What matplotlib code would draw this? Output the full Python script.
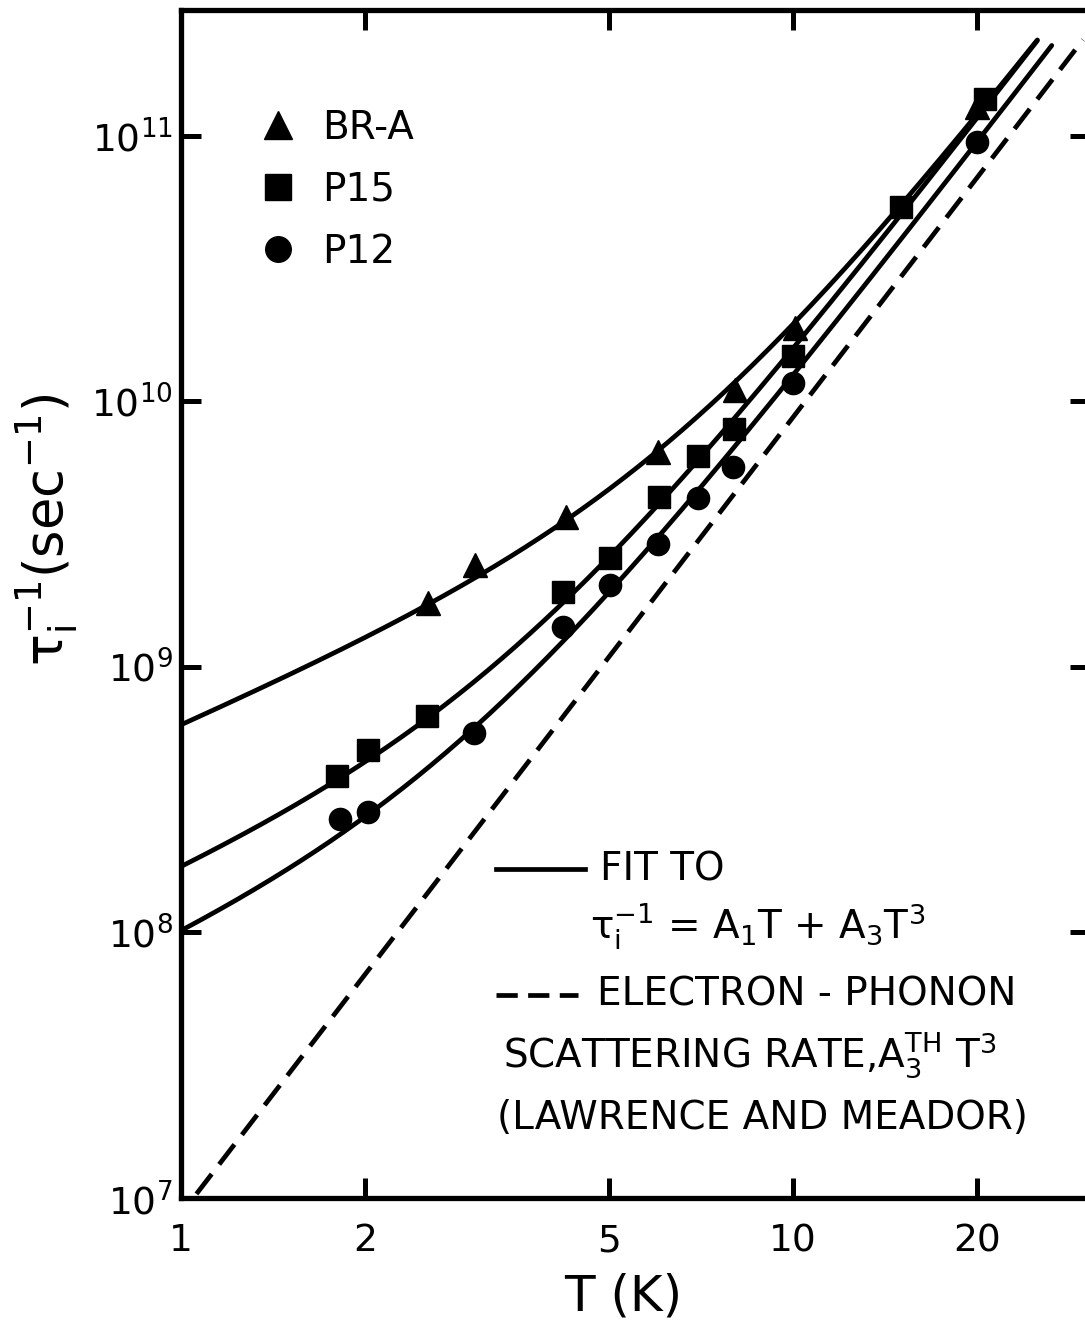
import numpy as np
import matplotlib.pyplot as plt
from matplotlib.lines import Line2D
from matplotlib.ticker import NullLocator

plt.rcParams['font.family'] = ['DejaVu Sans']
plt.rcParams['mathtext.default'] = 'regular'

# measured inelastic scattering rates tau_i^-1 (sec^-1) vs T (K)
T_bra = [2.53, 3.02, 4.26, 6.02, 8.04, 10.07, 20.0]
rate_bra = [1.74e9, 2.42e9, 3.67e9, 6.45e9, 1.10e10, 1.89e10, 1.29e11]

T_p15 = [1.80, 2.02, 2.52, 4.21, 5.02, 6.04, 7.0, 8.01, 10.0, 15.0, 20.6]
rate_p15 = [3.88e8, 4.87e8, 6.54e8, 1.92e9, 2.57e9, 4.37e9, 6.23e9, 7.88e9,
            1.48e10, 5.40e10, 1.38e11]

T_p12 = [1.82, 2.02, 3.01, 4.21, 5.02, 6.02, 7.0, 7.98, 10.0, 20.0]
rate_p12 = [2.68e8, 2.84e8, 5.64e8, 1.42e9, 2.04e9, 2.90e9, 4.33e9, 5.67e9,
            1.17e10, 9.5e10]

# fits tau^-1 = A1 T + A3 T^3  (BR-A, P15, P12)
fit_A1 = [5.92e8, 1.63e8, 9.0e7]
fit_A3 = [1.36e7, 1.42e7, 1.165e7]
fit_Tmax = [25.1, 25.1, 26.5]

# electron-phonon rate A3^TH T^3 (Lawrence and Meador)
A3_th = 8.7e6
T_th = [1.06, 29.8]

xticks = [1, 2, 5, 10, 20]
xticklabels = ['1', '2', '5', '10', '20']
yticks = [1e7, 1e8, 1e9, 1e10, 1e11]

LW = 3.4

fig = plt.figure(figsize=(10.85, 13.21), dpi=100)
ax = fig.add_axes([0.1668, 0.0931, 0.8378, 0.8993])
ax.set_xscale('log')
ax.set_yscale('log')
ax.set_xlim(1, 30.6)
ax.set_ylim(1e7, 2.98e11)

for a1, a3, tmax in zip(fit_A1, fit_A3, fit_Tmax):
    t = np.geomspace(1, tmax, 300)
    ax.plot(t, a1 * t + a3 * t**3, color='k', lw=LW, solid_capstyle='round')

t = np.geomspace(T_th[0], T_th[1], 100)
ax.plot(t, A3_th * t**3, color='k', lw=LW, dashes=(5.3, 2.6))

ax.plot(T_bra, rate_bra, ls='none', marker='^', ms=17, color='k', label='BR-A')
ax.plot(T_p15, rate_p15, ls='none', marker='s', ms=16, color='k', label='P15')
ax.plot(T_p12, rate_p12, ls='none', marker='o', ms=16, color='k', label='P12')

ax.legend(loc='upper left', bbox_to_anchor=(0.068, 0.930), frameon=False,
          fontsize=28, handlelength=1.0, handletextpad=0.65, labelspacing=0.62,
          borderaxespad=0, markerscale=1.15)

# fit / electron-phonon key
ax.add_line(Line2D([0.3465, 0.4444], [0.2769, 0.2769], transform=ax.transAxes,
                   color='k', lw=LW))
ax.text(0.461, 0.2769, 'FIT TO', transform=ax.transAxes, fontsize=28,
        va='center', ha='left')
ax.text(0.450, 0.2281, r'$\tau_i^{-1}$ = A$_1$T + A$_3$T$^3$', transform=ax.transAxes,
        fontsize=28, va='center', ha='left')
ax.add_line(Line2D([0.3465, 0.4367], [0.1709, 0.1709], transform=ax.transAxes,
                   color='k', lw=LW, dashes=(4.5, 2.2)))
ax.text(0.4576, 0.1709, 'ELECTRON - PHONON', transform=ax.transAxes, fontsize=28,
        va='center', ha='left')
ax.text(0.3542, 0.1204, r'SCATTERING RATE,A$_3^{TH}$ T$^3$', transform=ax.transAxes,
        fontsize=28, va='center', ha='left')
ax.text(0.3476, 0.0673, '(LAWRENCE AND MEADOR)', transform=ax.transAxes,
        fontsize=28, va='center', ha='left')

ax.set_xticks(xticks)
ax.set_xticklabels(xticklabels)
ax.set_yticks(yticks)
ax.xaxis.set_minor_locator(NullLocator())
ax.yaxis.set_minor_locator(NullLocator())
ax.tick_params(which='major', direction='in', top=True, right=True,
               length=14.5, width=3.6, labelsize=27)
ax.tick_params(axis='x', pad=18)
ax.tick_params(axis='y', pad=6)
for s in ax.spines.values():
    s.set_linewidth(3.8)

ax.set_xlabel('T (K)', fontsize=36, va='center')
ax.xaxis.set_label_coords(0.486, -0.083)
ax.set_ylabel(r'$\tau_i^{-1}$(sec$^{-1}$)', fontsize=38, va='center')
ax.yaxis.set_label_coords(-0.148, 0.562)

fig.savefig('out.png', dpi=100, facecolor='white')
